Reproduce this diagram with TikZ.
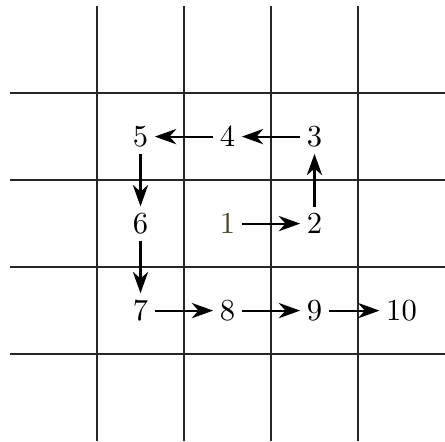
\documentclass[tikz,border=0pt]{standalone}
\usepackage{tikz}
\usetikzlibrary{arrows.meta}
\definecolor{startnum}{HTML}{4A4628}
\tikzset{
  gline/.style={line width=0.9pt,draw=black!85},
  cnum/.style={inner sep=2pt,font=\normalsize},
  sarr/.style={-{Stealth[length=7pt,width=5pt,inset=2.2pt]},line width=0.7pt,draw=black}
}
\begin{document}
\begin{tikzpicture}
  \useasboundingbox (-1.115,-4.0) rectangle (4.0,1.07);
  % grid
  \foreach \i in {0,...,3} {
    \draw[gline] (\i,1) -- (\i,-4);
    \draw[gline] (-1,-\i) -- (4,-\i);
  }
  % numbered cells
  \node[cnum,text=startnum] (n1) at (1.5,-1.5) {1};
  \foreach \nm/\x/\y in {2/2.5/-1.5, 3/2.5/-0.5, 4/1.5/-0.5, 5/0.5/-0.5, 6/0.5/-1.5,
     7/0.5/-2.5, 8/1.5/-2.5, 9/2.5/-2.5, 10/3.5/-2.5}{
    \node[cnum] (n\nm) at (\x,\y) {\nm};
  }
  % path
  \foreach \a/\b in {1/2, 2/3, 3/4, 4/5, 5/6, 6/7, 7/8, 8/9, 9/10}{
    \draw[sarr] (n\a) -- (n\b);
  }
\end{tikzpicture}
\end{document}
